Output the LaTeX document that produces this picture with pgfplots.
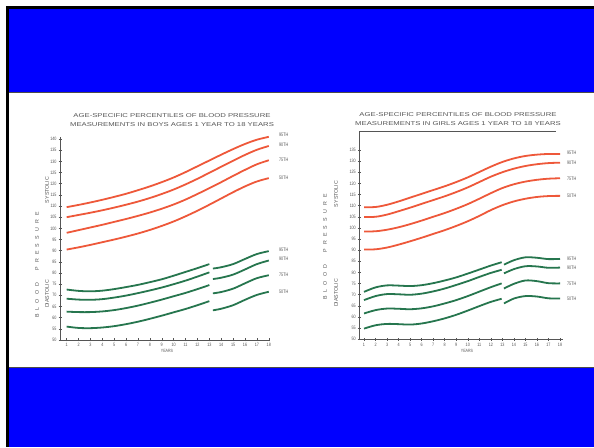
\documentclass[border=0pt]{standalone}
\usepackage{pgfplots}
\pgfplotsset{compat=1.18}
\usepackage{fontspec}
\setmainfont{Liberation Sans}
\definecolor{bpred}{RGB}{238,88,58}
\definecolor{bpgreen}{RGB}{38,118,78}
\definecolor{slideblue}{RGB}{0,0,255}
\definecolor{inkgray}{RGB}{85,85,85}
\pgfplotsset{bpaxis/.style={
  scale only axis, anchor=south west,
  axis x line*=bottom, axis y line*=left,
  axis line style={inkgray, line width=0.6pt, -},
  major tick style={inkgray, line width=0.5pt},
  major tick length=3pt, tick align=center,
  xtick={1,...,18},
  ticklabel style={font=\fontsize{4.8}{5}\selectfont, text=inkgray, xscale=0.78},
  xticklabel style={yshift=1.5pt},
  yticklabel style={xshift=1pt},
  /pgf/number format/assume math mode=true,
  clip=false,
  every axis plot/.append style={smooth, tension=0.55, line width=1.8pt, no markers},
}}
\tikzset{lab/.style={font=\fontsize{5}{6}\selectfont, text=inkgray, xscale=0.74, inner sep=0pt, anchor=west},
  ttl/.style={font=\fontsize{5.6}{6}\selectfont, text=inkgray, xscale=1.38, inner sep=0pt},
  side/.style={font=\fontsize{5.3}{6}\selectfont, text=inkgray, rotate=90, inner sep=0pt}}
\newcommand{\bp}{B\hspace{4.2pt}L\hspace{4.2pt}O\hspace{4.2pt}O\hspace{4.2pt}D\hspace{12pt}P\hspace{4.2pt}R\hspace{4.2pt}E\hspace{4.2pt}S\hspace{4.2pt}S\hspace{4.2pt}U\hspace{4.2pt}R\hspace{4.2pt}E}
\begin{document}
\begin{tikzpicture}[x=1pt,y=1pt]
\fill[white] (0,0) rectangle (594,447);
\fill[slideblue] (9,355) rectangle (594,438);
\fill[black!70] (9,354) rectangle (594,355);
\fill[slideblue] (9,0) rectangle (594,79);
\fill[black!70] (9,79) rectangle (594,80);
\fill[black] (6,0) rectangle (9,441);
\fill[black] (6,438) rectangle (594,441);

% ---------------- BOYS ----------------
\begin{axis}[bpaxis, at={(60pt,107pt)}, width=210pt, height=203.2pt,
  xmin=0.44, xmax=18.1, ymin=50, ymax=141, ytick={50,55,...,140}]
\addplot[bpred] coordinates {(1,109.5)(2,110.5)(3,111.6)(4,112.8)(5,114.1)(6,115.5)(7,117.1)(8,118.8)(9,120.7)(10,122.8)(11,125.2)(12,127.8)(13,130.4)(14,133.0)(15,135.5)(16,137.8)(17,139.7)(18,141.0)};
\addplot[bpred] coordinates {(1,105.0)(2,106.0)(3,107.0)(4,108.1)(5,109.3)(6,110.6)(7,112.0)(8,113.6)(9,115.4)(10,117.4)(11,119.7)(12,122.2)(13,124.9)(14,127.6)(15,130.3)(16,132.9)(17,135.2)(18,136.9)};
\addplot[bpred] coordinates {(1,98.0)(2,99.2)(3,100.4)(4,101.6)(5,102.9)(6,104.2)(7,105.6)(8,107.1)(9,108.8)(10,110.7)(11,112.9)(12,115.4)(13,118.0)(14,120.7)(15,123.5)(16,126.2)(17,128.7)(18,130.5)};
\addplot[bpred] coordinates {(1,90.5)(2,91.5)(3,92.6)(4,93.8)(5,95.0)(6,96.3)(7,97.7)(8,99.3)(9,101.1)(10,103.1)(11,105.4)(12,107.9)(13,110.6)(14,113.4)(15,116.2)(16,118.8)(17,121.0)(18,122.5)};
\addplot[bpgreen] coordinates {(1,72.6)(2,72.0)(3,71.8)(4,72.1)(5,72.8)(6,73.7)(7,74.7)(8,75.9)(9,77.2)(10,78.8)(11,80.5)(12,82.2)(13,84.0)};
\addplot[bpgreen] coordinates {(13.3,82.0)(14,82.6)(15,84.0)(16,86.3)(17,88.5)(18,89.8)};
\addplot[bpgreen] coordinates {(1,68.5)(2,68.1)(3,68.0)(4,68.3)(5,69.0)(6,69.9)(7,71.0)(8,72.2)(9,73.5)(10,75.0)(11,76.6)(12,78.4)(13,80.3)};
\addplot[bpgreen] coordinates {(13.3,77.3)(14,77.9)(15,79.3)(16,81.6)(17,84.0)(18,85.6)};
\addplot[bpgreen] coordinates {(1,62.7)(2,62.5)(3,62.5)(4,62.8)(5,63.4)(6,64.3)(7,65.4)(8,66.7)(9,68.1)(10,69.6)(11,71.1)(12,72.8)(13,74.6)};
\addplot[bpgreen] coordinates {(13.3,70.9)(14,71.5)(15,73.0)(16,75.4)(17,77.7)(18,79.0)};
\addplot[bpgreen] coordinates {(1,56.0)(2,55.4)(3,55.3)(4,55.6)(5,56.2)(6,57.1)(7,58.2)(8,59.5)(9,60.9)(10,62.4)(11,63.9)(12,65.6)(13,67.4)};
\addplot[bpgreen] coordinates {(13.3,63.3)(14,64.0)(15,65.6)(16,68.0)(17,70.2)(18,71.6)};
\end{axis}

% ---------------- GIRLS ----------------
\begin{axis}[bpaxis, at={(359.3pt,107.7pt)}, width=203.7pt, height=207.6pt,
  xmin=0.59, xmax=18.26, ymin=50, ymax=143.2, ytick={50,55,...,135}]
\addplot[bpred] coordinates {(1,109.3)(2,109.4)(3,110.4)(4,111.9)(5,113.6)(6,115.3)(7,117.0)(8,118.7)(9,120.6)(10,122.7)(11,125.1)(12,127.5)(13,129.6)(14,131.2)(15,132.3)(16,132.9)(17,133.2)(18,133.2)};
\addplot[bpred] coordinates {(1,104.9)(2,105.0)(3,106.0)(4,107.5)(5,109.1)(6,110.8)(7,112.5)(8,114.2)(9,116.1)(10,118.2)(11,120.6)(12,123.0)(13,125.0)(14,126.6)(15,127.8)(16,128.6)(17,129.1)(18,129.3)};
\addplot[bpred] coordinates {(1,98.4)(2,98.5)(3,99.2)(4,100.3)(5,101.7)(6,103.3)(7,105.0)(8,106.7)(9,108.6)(10,110.7)(11,113.1)(12,115.6)(13,117.9)(14,119.6)(15,120.8)(16,121.6)(17,122.1)(18,122.3)};
\addplot[bpred] coordinates {(1,90.3)(2,90.4)(3,91.2)(4,92.5)(5,94.0)(6,95.6)(7,97.3)(8,99.0)(9,100.9)(10,103.0)(11,105.4)(12,108.0)(13,110.2)(14,111.9)(15,113.1)(16,113.9)(17,114.3)(18,114.4)};
\addplot[bpgreen] coordinates {(1,71.3)(2,73.3)(3,74.2)(4,74.1)(5,73.9)(6,74.3)(7,75.2)(8,76.4)(9,77.8)(10,79.5)(11,81.3)(12,83.1)(12.94,84.6)};
\addplot[bpgreen] coordinates {(13.14,83.5)(14,85.5)(15,86.8)(16,86.6)(17,86.0)(18,86.1)};
\addplot[bpgreen] coordinates {(1,67.6)(2,69.4)(3,70.3)(4,70.2)(5,70.0)(6,70.5)(7,71.5)(8,72.8)(9,74.4)(10,76.1)(11,78.0)(12,79.8)(12.94,81.2)};
\addplot[bpgreen] coordinates {(13.14,79.6)(14,81.5)(15,82.8)(16,82.7)(17,82.1)(18,82.2)};
\addplot[bpgreen] coordinates {(1,61.6)(2,63.1)(3,63.8)(4,63.7)(5,63.5)(6,63.9)(7,64.8)(8,66.1)(9,67.6)(10,69.4)(11,71.4)(12,73.4)(12.94,75.1)};
\addplot[bpgreen] coordinates {(13.14,72.8)(14,74.9)(15,76.4)(16,76.1)(17,75.2)(18,75.1)};
\addplot[bpgreen] coordinates {(1,54.8)(2,56.3)(3,56.9)(4,56.8)(5,56.6)(6,57.1)(7,58.1)(8,59.4)(9,61.0)(10,62.9)(11,64.9)(12,66.8)(12.94,68.2)};
\addplot[bpgreen] coordinates {(13.14,66.1)(14,68.3)(15,69.4)(16,69.2)(17,68.4)(18,68.3)};
\draw[inkgray, line width=0.6pt] (rel axis cs:0,1) -- (rel axis cs:0.965,1);
\end{axis}

% texts
\node[ttl] at (172,331) {AGE-SPECIFIC PERCENTILES OF BLOOD PRESSURE};
\node[ttl] at (172,322) {MEASUREMENTS IN BOYS AGES 1 YEAR TO 18 YEARS};
\node[ttl] at (458,332) {AGE-SPECIFIC PERCENTILES OF BLOOD PRESSURE};
\node[ttl] at (458,323) {MEASUREMENTS IN GIRLS AGES 1 YEAR TO 18 YEARS};
\node[lab, anchor=center, xscale=1.05, font=\fontsize{4.6}{5}\selectfont] at (167,96.5) {YEARS};
\node[lab, anchor=center, xscale=1.05, font=\fontsize{4.6}{5}\selectfont] at (467,96.5) {YEARS};
\foreach \yy/\tt in {312/95TH,302/90TH,287/75TH,269/50TH,197/95TH,188/90TH,172/75TH,155/50TH}
  \node[lab] at (279,\yy) {\tt};
\foreach \yy/\tt in {294/95TH,284/90TH,268/75TH,251/50TH,188/95TH,179/90TH,163/75TH,148/50TH}
  \node[lab] at (567,\yy) {\tt};
\node[side] at (37,182) {\bp};
\node[side] at (325,200) {\bp};
\node[side] at (47,257) {SYSTOLIC};
\node[side] at (47,153) {DIASTOLIC};
\node[side] at (336,253) {SYSTOLIC};
\node[side] at (336,154) {DIASTOLIC};
\end{tikzpicture}
\end{document}
